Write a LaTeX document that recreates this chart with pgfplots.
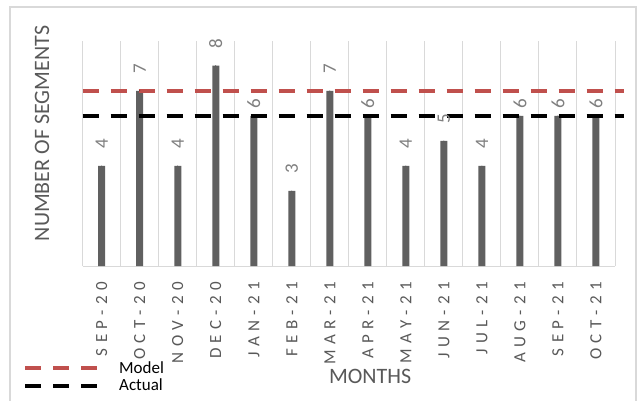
\documentclass[border=0pt]{standalone}
\usepackage{fontspec}
\setmainfont{Carlito}
\usepackage{pgfplots}
\usepackage{pgfplotstable}
\pgfplotsset{compat=1.18}
\definecolor{barc}{RGB}{96,96,96}
\definecolor{gridc}{RGB}{217,217,217}
\definecolor{txt}{RGB}{89,89,89}
\definecolor{vtxt}{RGB}{127,127,127}
\definecolor{redc}{RGB}{192,80,77}
\newcommand\ls{\kern5.3bp}

\pgfplotstableread{
x y off
0 4 17
1 7 17
2 4 17
3 8 17
4 6 7
5 3 17
6 7 17
7 6 7
8 4 17
9 5 17
10 4 17
11 6 7
12 6 7
13 6 7
}\segdata

\begin{document}
\begin{tikzpicture}
\begin{axis}[
  at={(0,0)}, anchor=south west,
  scale only axis, width=532.3bp, height=225.3bp,
  xmin=-0.5, xmax=13.5, ymin=0, ymax=9,
  clip=false,
  /pgf/number format/assume math mode=true,
  axis x line*=bottom, axis y line*=left,
  x axis line style={draw=gridc, line width=1bp, -},
  y axis line style={draw=none},
  ytick=\empty,
  xtick={0,...,13},
  xticklabels={
    {S\ls E\ls P\ls -\ls 2\ls 0},
    {O\ls C\ls T\ls -\ls 2\ls 0},
    {N\ls O\ls V\ls -\ls 2\ls 0},
    {D\ls E\ls C\ls -\ls 2\ls 0},
    {J\ls A\ls N\ls -\ls 2\ls 1},
    {F\ls E\ls B\ls -\ls 2\ls 1},
    {M\ls A\ls R\ls -\ls 2\ls 1},
    {A\ls P\ls R\ls -\ls 2\ls 1},
    {M\ls A\ls Y\ls -\ls 2\ls 1},
    {J\ls U\ls N\ls -\ls 2\ls 1},
    {J\ls U\ls L\ls -\ls 2\ls 1},
    {A\ls U\ls G\ls -\ls 2\ls 1},
    {S\ls E\ls P\ls -\ls 2\ls 1},
    {O\ls C\ls T\ls -\ls 2\ls 1}},
  major tick length=0pt,
  minor xtick={-0.5,0.5,...,13.5},
  minor tick length=0pt,
  xminorgrids=true,
  minor grid style={draw=gridc, line width=1bp},
  xticklabel shift=16bp,
  xticklabel style={rotate=90, anchor=east, inner sep=0pt, text=txt,
    font=\fontsize{17bp}{19bp}\selectfont},
  xlabel={MONTHS},
  ylabel={NUMBER OF SEGMENTS},
  every axis x label/.style={at={(axis description cs:0.54,-0.488)}, anchor=center,
    inner sep=0pt, text=txt, font=\fontsize{22bp}{24bp}\selectfont},
  every axis y label/.style={at={(axis description cs:-0.0765,0.588)}, rotate=90, anchor=center,
    inner sep=0pt, text=txt, font=\fontsize{22bp}{24bp}\selectfont},
  legend style={at={(axis description cs:-0.1122,-0.415)}, anchor=north west,
    draw=none, fill=none, inner sep=0pt, row sep=0pt, column sep=18bp,
    font=\fontsize{17bp}{18bp}\selectfont},
  legend cell align=left,
  legend image code/.code={\draw[#1] (0bp,0bp) -- (72bp,0bp);},
]
\addplot[forget plot, ybar, bar width=7bp, bar shift=0pt, fill=barc, draw=none]
  table[x=x, y=y]{\segdata};
\addplot[forget plot, only marks, mark=*, mark size=0.01pt, mark options={draw=none, fill=none},
  point meta=\thisrow{y},
  visualization depends on={\thisrow{off} \as \myoff},
  nodes near coords={\pgfmathprintnumber[assume math mode=true]{\pgfplotspointmeta}},
  every node near coord/.style={yshift=\myoff bp, rotate=90, anchor=west, inner sep=0pt,
    text=vtxt, font=\fontsize{19bp}{21bp}\selectfont}]
  table[x=x, y=y]{\segdata};
\addplot[redc, line width=4bp, dash pattern=on 16bp off 12bp] coordinates {(-0.5,7) (13.74,7)};
\addlegendentry{Model}
\addplot[black, line width=4bp, dash pattern=on 16bp off 12bp] coordinates {(-0.5,6) (13.74,6)};
\addlegendentry{Actual}
\end{axis}
\draw[gridc, line width=1.5bp] (-72.7bp,259bp) rectangle (553.3bp,-150bp);
\pgfresetboundingbox
\useasboundingbox (-82.7bp,-135bp) rectangle (557.3bp,266bp);
\end{tikzpicture}
\end{document}
